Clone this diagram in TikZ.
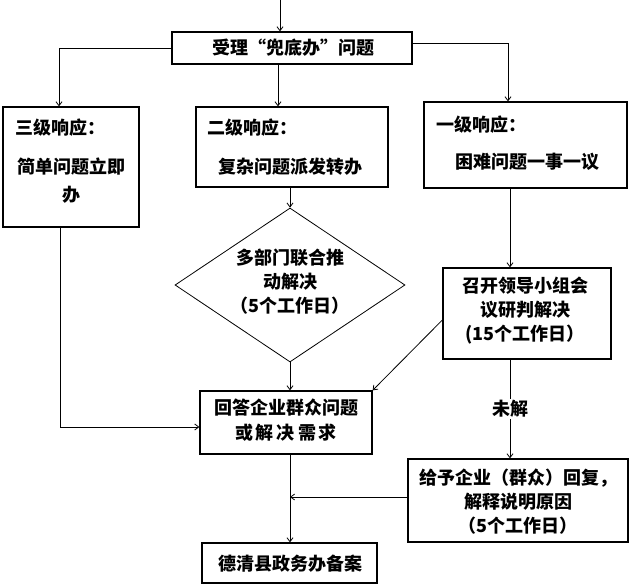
\documentclass[tikz,border=0pt]{standalone}
\usepackage{fontspec}
\newfontfamily\cjk{Noto Sans CJK SC}
\usetikzlibrary{arrows.meta,shapes.geometric}
\begin{document}
\begin{tikzpicture}[x=1pt,y=-1pt,
  box/.style={draw,line width=1.3pt,inner sep=0pt},
  txt/.style={inner sep=0pt,align=center,font=\cjk\bfseries\fontsize{18}{24}\selectfont},
  conn/.style={line width=0.8pt,-{Straight Barb[length=4pt,width=6pt]}},
  plain/.style={line width=0.8pt}]
\useasboundingbox[fill=white] (0,0) rectangle (630,586);
% boxes
\node[box,minimum width=240,minimum height=32] (top) at (292,48) {};
\node[box,minimum width=136,minimum height=120] (left) at (71,167) {};
\node[box,minimum width=192,minimum height=80] (mid) at (292,147) {};
\node[box,minimum width=203,minimum height=86] (right) at (525.5,145) {};
\node[draw,line width=0.8pt,diamond,inner sep=0pt,minimum width=230,minimum height=154] (dia) at (290,285) {};
\node[box,minimum width=168,minimum height=91] (zk) at (527,313.5) {};
\node[box,minimum width=172,minimum height=63] (ans) at (286,422.5) {};
\node[box,minimum width=220,minimum height=83] (give) at (518,500.5) {};
\node[box,minimum width=175,minimum height=40] (rec) at (289.5,563) {};
% texts
\node[txt] (ttop) at (293,48) {受理“兜底办”问题};
\node[txt,anchor=west] (tlh) at (15,128) {三级响应：};
\node[txt,font=\cjk\bfseries\fontsize{18}{28}\selectfont] (tlb) at (71,181) {简单问题立即\\办};
\node[txt,anchor=west] (tmh) at (207,128) {二级响应：};
\node[txt] (tmb) at (290,167) {复杂问题派发转办};
\node[txt,anchor=west] (trh) at (436,125) {一级响应：};
\node[txt] (trb) at (527,162) {困难问题一事一议};
\node[txt] (tdia) at (290,282) {多部门联合推\\动解决\\（5个工作日）};
\node[txt] (tzk) at (525,311) {召开领导小组会\\议研判解决\\(15个工作日）};
\node[txt,font=\cjk\bfseries\fontsize{18}{25}\selectfont] (tans) at (286,420) {回答企业群众问题\\或\,解\,决\,需\,求};
\node[txt] (tgive) at (518,502) {给予企业（群众）回复，\\解释说明原因\\（5个工作日）};
\node[txt] (trec) at (290,564) {德清县政务办备案};
% helper coordinates
\coordinate (start) at (280,0);
\coordinate (lx) at (59,0);
\coordinate (lx2) at (60,0);
\coordinate (mx) at (278,0);
\coordinate (rx) at (508,0);
\coordinate (rx2) at (510,0);
\coordinate (bx) at (290,0);
\coordinate (ry) at (0,43);
\coordinate (zy) at (0,320);
\coordinate (ay) at (0,427);
\coordinate (gy) at (0,497);
% connectors
\draw[conn] (start) -- (start |- top.north);
\draw[conn] (top.west) -| (lx |- left.north);
\draw[conn] (mx |- top.south) -- (mx |- mid.north);
\draw[conn] (top.east |- ry) -| (rx |- right.north);
\draw[conn] (dia.north |- mid.south) -- (dia.north);
\draw[conn] (rx2 |- right.south) -- (rx2 |- zk.north);
\draw[conn] (dia.south) -- (dia.south |- ans.north);
\draw[conn] (zk.west |- zy) -- (ans.north east);
\draw[conn] (lx2 |- left.south) |- (ans.west |- ay);
\draw[conn] (rx2 |- zk.south) -- node[txt,fill=white,inner sep=1pt] (wj) {未解} (rx2 |- give.north);
\draw[conn] (bx |- ans.south) -- (bx |- rec.north);
\draw[conn] (give.west |- gy) -- (bx |- gy);
\end{tikzpicture}
\end{document}
